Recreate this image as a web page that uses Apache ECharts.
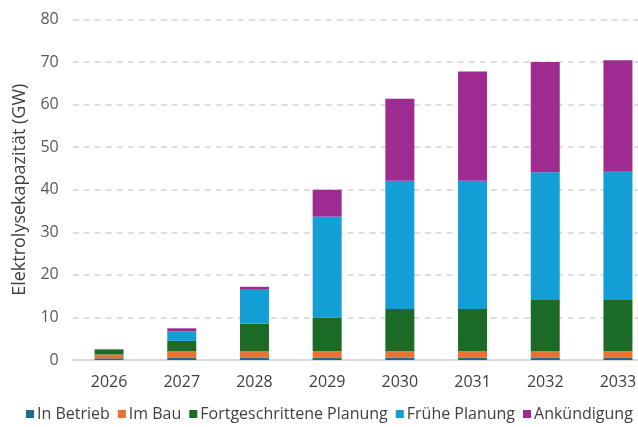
<!DOCTYPE html>
<html>
<head>
<meta charset="utf-8">
<script src="https://cdn.jsdelivr.net/npm/echarts@6/dist/echarts.min.js"></script>
<style>html,body{margin:0;padding:0;background:#fff;overflow:hidden}#c{width:638px;height:427px}</style>
</head>
<body>
<div id="c"></div>
<script>
const categories = ['2026','2027','2028','2029','2030','2031','2032','2033'];
const inBetrieb = [0.4, 0.5, 0.5, 0.5, 0.5, 0.5, 0.5, 0.5];
const imBau = [0.9, 1.6, 1.6, 1.6, 1.6, 1.6, 1.6, 1.6];
const fortgeschritten = [1.2, 2.4, 6.4, 7.9, 9.9, 9.9, 12.0, 12.0];
const fruehe = [0, 2.2, 8.0, 23.7, 30.1, 30.1, 30.0, 30.1];
const ankuendigung = [0, 0.75, 0.7, 6.3, 19.3, 25.7, 25.9, 26.2];
const yTicks = {min: 0, max: 80, interval: 10};

const font = 'Open Sans';
const chart = echarts.init(document.getElementById('c'));
function s(name, data, color) {
  return {name, type: 'bar', stack: 'a', data, barWidth: 29, itemStyle: {color}, emphasis: {disabled: true}};
}
chart.setOption({
  animation: false,
  textStyle: {fontFamily: font},
  grid: {left: 72.7, width: 581.6, top: 19.5, height: 340.5, containLabel: false, outerBoundsMode: 'none'},
  legend: {
    left: 26, top: 406, width: 630, padding: 0, itemWidth: 8, itemHeight: 8, itemGap: 8, icon: 'rect',
    textStyle: {fontFamily: font, fontSize: 16, color: '#404040', padding: [0, 0, 0, -2]},
    data: ['In Betrieb','Im Bau','Fortgeschrittene Planung','Frühe Planung','Ankündigung']
  },
  xAxis: {
    type: 'category', data: categories,
    axisLine: {lineStyle: {color: '#d9d9d9', width: 2}},
    axisTick: {show: false},
    axisLabel: {fontFamily: font, fontSize: 16, color: '#404040', margin: 14}
  },
  yAxis: {
    type: 'value', min: yTicks.min, max: yTicks.max, interval: yTicks.interval,
    name: 'Elektrolysekapazität (GW)', nameLocation: 'middle', nameGap: 44, nameRotate: 90,
    nameTextStyle: {fontFamily: font, fontSize: 18, color: '#404040'},
    axisLine: {show: false}, axisTick: {show: false},
    axisLabel: {fontFamily: font, fontSize: 16, color: '#595959', margin: 14},
    splitLine: {lineStyle: {color: '#d4d4d4', width: 1.5, type: [6, 5]}}
  },
  series: [
    s('In Betrieb', inBetrieb, '#1f6b89'),
    s('Im Bau', imBau, '#e97131'),
    s('Fortgeschrittene Planung', fortgeschritten, '#1b6a26'),
    s('Frühe Planung', fruehe, '#139fd6'),
    s('Ankündigung', ankuendigung, '#9e2b90')
  ]
});
</script>
</body>
</html>
